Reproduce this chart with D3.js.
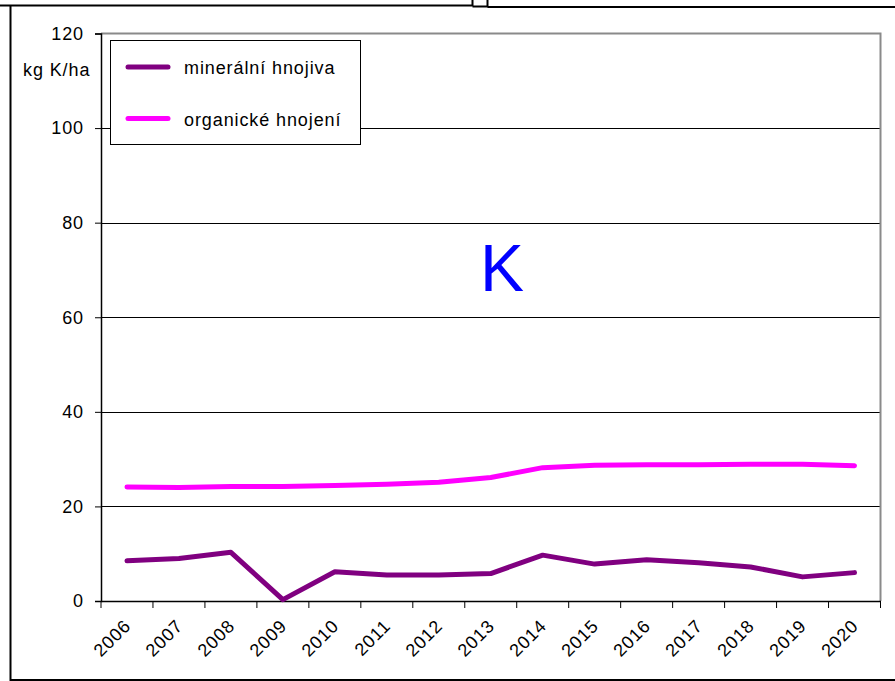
<!DOCTYPE html>
<html>
<head>
<meta charset="utf-8">
<script src="https://cdn.jsdelivr.net/npm/d3@7"></script>
<style>
  body { margin: 0; background: #fff; }
  svg { display: block; font-family: "Liberation Sans", Arial, sans-serif; }
</style>
</head>
<body>
<svg id="chart" width="895" height="681"></svg>
<script>
// data
var years = ["2006", "2007", "2008", "2009", "2010", "2011", "2012", "2013",
             "2014", "2015", "2016", "2017", "2018", "2019", "2020"];
var mineralni = [8.5, 9.0, 10.3, 0.3, 6.2, 5.5, 5.5, 5.8, 9.7, 7.8, 8.7, 8.1, 7.2, 5.1, 6.0];
var organicke = [24.1, 24.0, 24.2, 24.2, 24.4, 24.7, 25.1, 26.1, 28.2, 28.7, 28.8, 28.8, 28.9, 28.9, 28.6];
var yTicks = [0, 20, 40, 60, 80, 100, 120];
var seriesNames = ["minerální hnojiva", "organické hnojení"];
var seriesColors = ["#800080", "#ff00ff"];

var svg = d3.select("#chart");
var FONT = "'Liberation Sans', Arial, sans-serif";

// outer frame remnants
var frame = svg.append("g").attr("stroke", "#000").attr("fill", "none");
frame.append("path").attr("stroke-width", 2)
    .attr("d", "M0,5.5H472.5V0M472.5,6.5H487.5V0M487.5,7H895");
frame.append("path").attr("stroke-width", 2)
    .attr("d", "M10.5,5V680H895");

// plot area edges
var plotLeft = 101, plotRight = 880.5, plotTop = 33.5, plotBottom = 601;

var x = d3.scaleBand().domain(years).range([plotLeft, plotRight]);
var y = d3.scaleLinear().domain([0, 120]).range([plotBottom, plotTop]);

// gridlines
svg.append("g").selectAll("line")
    .data(yTicks.filter(function(d) { return d > 0 && d < 120; }))
    .join("line")
    .attr("x1", plotLeft).attr("x2", plotRight)
    .attr("y1", function(d) { return Math.round(y(d)) + 0.5; })
    .attr("y2", function(d) { return Math.round(y(d)) + 0.5; })
    .attr("stroke", "#000").attr("stroke-width", 1);

// plot area border (top and right are grey)
svg.append("path")
    .attr("d", "M" + plotLeft + "," + plotTop + "H" + plotRight + "V" + plotBottom)
    .attr("fill", "none").attr("stroke", "#8a8a8a").attr("stroke-width", 2);

// y axis
var yAxis = svg.append("g")
    .attr("transform", "translate(" + plotLeft + ",0)")
    .call(d3.axisLeft(y).tickValues(yTicks).tickSize(6).tickPadding(11));
yAxis.select(".domain").attr("stroke", "#000").attr("stroke-width", 1.5);
yAxis.selectAll(".tick line").attr("stroke", "#000");
yAxis.selectAll("text").attr("font-size", 18).attr("fill", "#000")
    .attr("font-family", FONT).attr("letter-spacing", 0.9);

// x axis with ticks at category boundaries
var xAxis = svg.append("g")
    .attr("transform", "translate(0," + plotBottom + ")")
    .call(d3.axisBottom(x).tickSize(0).tickPadding(0));
xAxis.select(".domain").attr("stroke", "#000").attr("stroke-width", 1.5);
xAxis.selectAll(".tick text")
    .attr("font-size", 18).attr("fill", "#000")
    .attr("font-family", FONT).attr("letter-spacing", 0.9)
    .attr("text-anchor", "end")
    .attr("y", 0).attr("dy", 0)
    .attr("transform", "translate(5,26) rotate(-45)");
var bounds = years.map(function(d) { return x(d); }).concat([plotRight]);
svg.append("g").selectAll("line").data(bounds).join("line")
    .attr("x1", function(d) { return d; }).attr("x2", function(d) { return d; })
    .attr("y1", plotBottom).attr("y2", plotBottom + 7)
    .attr("stroke", "#000").attr("stroke-width", 1);

// unit label
svg.append("text").attr("x", 23).attr("y", 76)
    .attr("font-size", 18).attr("letter-spacing", 0.9).text("kg K/ha");

// series lines
var line = d3.line()
    .x(function(d, i) { return x(years[i]) + x.bandwidth() / 2; })
    .y(function(d) { return y(d); });

[mineralni, organicke].forEach(function(vals, i) {
    svg.append("path").datum(vals)
        .attr("d", line)
        .attr("fill", "none")
        .attr("stroke", seriesColors[i])
        .attr("stroke-width", 5)
        .attr("stroke-linecap", "round")
        .attr("stroke-linejoin", "round");
});

// big element label
svg.append("text").attr("x", 502).attr("y", 291)
    .attr("text-anchor", "middle").attr("font-size", 66)
    .attr("fill", "#0000ff").text("K");

// legend
var legend = svg.append("g");
legend.append("rect").attr("x", 110.5).attr("y", 40.5).attr("width", 250).attr("height", 104)
    .attr("fill", "#fff").attr("stroke", "#000").attr("stroke-width", 1);
seriesNames.forEach(function(name, i) {
    var ly = 67 + i * 51.5;
    legend.append("line").attr("x1", 128).attr("x2", 168)
        .attr("y1", ly).attr("y2", ly)
        .attr("stroke", seriesColors[i]).attr("stroke-width", 5)
        .attr("stroke-linecap", "round");
    legend.append("text").attr("x", 184).attr("y", ly + 7)
        .attr("font-size", 18).attr("letter-spacing", 0.9).text(name);
});
</script>
</body>
</html>
